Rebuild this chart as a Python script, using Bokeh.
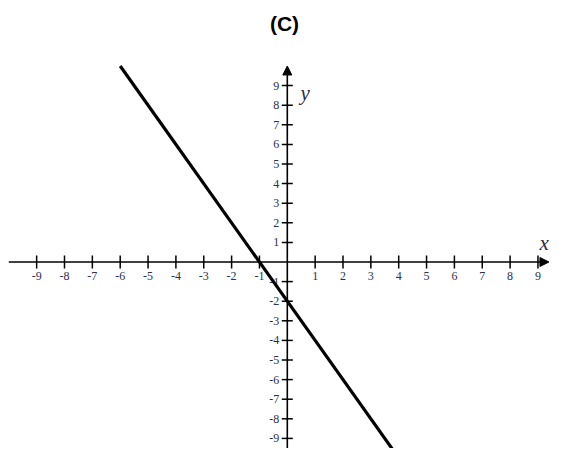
import math
from bokeh.plotting import figure
from bokeh.models import Label, Arrow, NormalHead
from bokeh.core.properties import value
from bokeh.embed import file_html
from bokeh.resources import INLINE

# data
x_ticks = [-9, -8, -7, -6, -5, -4, -3, -2, -1, 1, 2, 3, 4, 5, 6, 7, 8, 9]
x_tick_labels = ["-9", "-8", "-7", "-6", "-5", "-4", "-3", "-2", "-1",
                 "1", "2", "3", "4", "5", "6", "7", "8", "9"]
y_ticks = [9, 8, 7, 6, 5, 4, 3, 2, 1, -1, -2, -3, -4, -5, -6, -7, -8, -9]
y_tick_labels = ["9", "8", "7", "6", "5", "4", "3", "2", "1",
                 "-1", "-2", "-3", "-4", "-5", "-6", "-7", "-8", "-9"]
line_x = [-6, 4]
line_y = [10, -10]
title_text = "(C)"

W, H = 549, 448
ORIGIN_X, ORIGIN_Y = 286.8, 261.5   # px
UX, UY = 27.85, 19.6                 # px per unit
X_MIN, X_MAX = -ORIGIN_X / UX, (W - ORIGIN_X) / UX
Y_MIN, Y_MAX = (ORIGIN_Y - H) / UY, ORIGIN_Y / UY

p = figure(width=W, height=H, x_range=(X_MIN, X_MAX), y_range=(Y_MIN, Y_MAX),
           min_border=0, toolbar_location=None, output_backend="svg",
           x_axis_location=None, y_axis_location=None)
p.grid.visible = False
p.outline_line_color = None
p.background_fill_color = "white"
p.border_fill_color = "white"

# axes with arrows
p.add_layout(Arrow(x_start=-10.0, y_start=0, x_end=X_MAX - 0.02, y_end=0,
                   line_color="black", line_width=1.6,
                   end=NormalHead(size=9, fill_color="black", line_color="black")))
p.add_layout(Arrow(x_start=0, y_start=Y_MIN, x_end=0, y_end=10,
                   line_color="black", line_width=1.6,
                   end=NormalHead(size=9, fill_color="black", line_color="black")))

# tick marks
p.scatter(x=x_ticks, y=[0] * len(x_ticks), marker="dash", size=13, angle=math.pi / 2,
          line_color="black", line_width=1.5)
p.scatter(x=[0] * len(y_ticks), y=y_ticks, marker="dash", size=11,
          line_color="black", line_width=1.5)

# tick labels
p.text(x=x_ticks, y=[0] * len(x_ticks), text=x_tick_labels, text_align="center",
       text_baseline="middle", y_offset=14, text_font=value("Liberation Serif"),
       text_font_size="12px", text_color="#2c3048")
p.text(x=[0] * len(y_ticks), y=y_ticks, text=y_tick_labels, text_align="right",
       text_baseline="middle", x_offset=-8, text_font=value("Liberation Serif"),
       text_font_size="12px", text_color="#2c3048")

# the line
p.line(line_x, line_y, line_color="black", line_width=3.2)

# labels
p.add_layout(Label(x=0.474, y=8.6, text="y", text_font="Liberation Serif",
                   text_font_style="italic", text_font_size="21px",
                   text_align="left", text_baseline="alphabetic", text_color="#2a2d40"))
p.add_layout(Label(x=X_MAX - 0.02, y=0.95, text="x", text_font="Liberation Serif",
                   text_font_style="italic", text_font_size="21px",
                   text_align="right", text_baseline="alphabetic", text_color="#2a2d40"))
p.add_layout(Label(x=-0.1, y=12.15, text=title_text, text_font="Liberation Sans",
                   text_font_style="bold", text_font_size="21px",
                   text_align="center", text_baseline="middle", text_color="black"))

open("out.html", "w").write(file_html(p, INLINE))
